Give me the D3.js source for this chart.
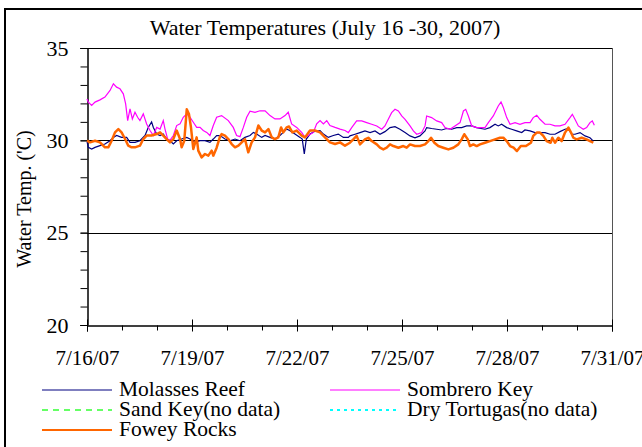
<!DOCTYPE html>
<html><head><meta charset="utf-8">
<script src="https://cdn.jsdelivr.net/npm/d3@7"></script>
<style>body{margin:0;background:#fff}svg{display:block}svg text{font-family:"Liberation Serif","DejaVu Serif",serif !important}</style>
</head><body><svg id="c" width="642" height="447"></svg>
<script>
const title = "Water Temperatures (July 16 -30, 2007)";
const yLabel = "Water Temp. ('C)";
const yTicks = [20, 25, 30, 35];
const yGrid = [25, 30];
const xTickLabels = ["7/16/07", "7/19/07", "7/22/07", "7/25/07", "7/28/07", "7/31/07"];
const seriesNames = ["Molasses Reef", "Sombrero Key", "Sand Key(no data)", "Dry Tortugas(no data)", "Fowey Rocks"];
// [hours since 7/16/07 00:00, temperature]
const molasses = [[0,29.95],[0.9,29.62],[3.2,29.53],[5.5,29.62],[8.9,29.71],[12.3,29.8],[15.8,29.98],[18.1,30.16],[20.3,30.26],[23.7,30.16],[27.2,30.16],[29.5,29.89],[32.9,29.89],[36.3,29.98],[39.8,30.26],[42.0,30.7],[44.3,31.0],[45.5,30.7],[47.8,30.34],[50.1,30.26],[52.3,30.34],[54.6,30.07],[56.9,29.98],[59.2,29.8],[61.5,29.98],[64.9,30.07],[68.4,30.16],[70.6,30.07],[74.1,29.89],[77.5,29.98],[80.9,29.98],[84.3,29.89],[86.6,30.07],[88.9,30.26],[91.2,30.26],[94.6,30.07],[98.1,29.98],[101.5,30.07],[104.9,29.98],[108.3,30.16],[111.8,30.26],[114.1,30.43],[116.3,30.34],[119.8,30.16],[122.1,30.26],[125.5,30.16],[128.9,30.07],[132.3,30.26],[134.6,30.43],[136.9,30.61],[139.2,30.52],[142.6,30.34],[146.1,30.16],[147.6,30.07],[149.0,29.26],[150.4,30.07],[152.9,30.34],[156.3,30.49],[159.8,30.52],[162.1,30.34],[165.5,30.16],[168.9,30.26],[172.3,30.34],[175.8,30.16],[179.2,30.16],[180.3,30.24],[183.8,30.33],[187.2,30.42],[190.6,30.51],[194.1,30.42],[197.5,30.51],[200.9,30.33],[204.3,30.47],[207.8,30.69],[211.2,30.74],[214.6,30.6],[218.1,30.42],[221.5,30.24],[224.9,30.14],[228.3,30.24],[231.8,30.51],[232.9,30.69],[236.3,30.64],[239.8,30.6],[243.2,30.56],[246.6,30.64],[250.1,30.6],[253.5,30.69],[256.9,30.69],[260.3,30.78],[263.8,30.78],[267.2,30.69],[272.9,30.6],[276.3,30.69],[279.8,30.87],[282.0,30.78],[284.3,30.87],[287.8,30.69],[291.2,30.6],[294.6,30.51],[298.1,30.42],[300.3,30.56],[303.8,30.51],[307.2,30.42],[310.6,30.42],[314.1,30.42],[317.5,30.33],[320.9,30.33],[324.3,30.47],[327.8,30.6],[330.1,30.64],[332.3,30.33],[334.6,30.33],[338.1,30.42],[341.5,30.24],[344.9,30.14],[347.2,29.96]];
const sombrero = [[0,32.24],[0.9,32.07],[3.2,31.89],[5.5,32.07],[8.9,32.19],[12.3,32.34],[15.8,32.7],[18.1,33.06],[20.3,32.88],[22.6,32.79],[24.9,32.52],[26.5,31.97],[27.9,31.07],[29.5,31.7],[31.1,31.16],[32.9,31.52],[34.7,31.25],[36.3,31.07],[38.6,31.43],[40.9,30.89],[43.2,30.53],[45.5,30.26],[47.8,30.7],[50.1,30.61],[52.3,31.07],[53.5,30.61],[55.3,30.07],[56.9,30.0],[59.2,30.26],[61.5,30.8],[63.8,30.89],[66.0,31.25],[68.4,31.43],[70.6,31.25],[72.9,30.98],[75.2,30.7],[77.5,30.7],[79.7,30.53],[82.1,30.43],[84.3,30.26],[86.6,30.8],[88.9,31.25],[92.3,31.34],[96.9,31.07],[100.3,30.7],[102.6,30.26],[104.9,30.2],[107.2,30.7],[109.5,31.25],[111.8,31.58],[115.2,31.52],[118.6,31.6],[122.1,31.6],[125.5,31.34],[128.9,31.16],[132.3,31.16],[135.8,31.34],[138.0,31.52],[140.3,30.89],[143.8,30.7],[147.2,30.43],[149.5,30.16],[151.8,30.26],[155.2,30.43],[157.5,30.89],[159.8,31.07],[162.1,30.89],[164.4,31.07],[166.6,30.8],[170.1,30.7],[173.5,30.61],[176.9,30.53],[179.2,30.42],[181.5,30.69],[184.9,31.05],[188.4,31.05],[191.8,30.96],[195.2,30.87],[198.7,30.78],[202.1,30.6],[204.3,30.78],[206.6,31.14],[208.9,31.5],[211.2,31.68],[213.5,31.59],[215.8,31.32],[218.1,31.14],[221.5,30.78],[223.8,30.51],[226.1,30.33],[229.5,30.42],[231.8,30.78],[232.9,31.32],[236.3,31.23],[239.8,31.05],[243.2,30.96],[245.5,30.69],[248.9,30.6],[252.3,30.78],[255.8,30.96],[258.1,31.59],[259.7,31.68],[261.5,31.32],[263.8,30.78],[267.2,30.69],[272.9,30.69],[275.2,30.96],[278.6,31.32],[282.0,31.86],[283.9,32.08],[285.5,31.78],[287.8,31.23],[290.1,30.87],[293.5,30.96],[296.9,30.87],[300.3,30.96],[303.8,30.96],[306.0,31.23],[308.4,31.36],[310.6,31.14],[314.1,30.87],[317.5,30.87],[320.9,30.78],[324.3,30.78],[327.8,30.87],[331.2,31.23],[332.8,31.41],[334.6,31.14],[336.9,30.78],[340.3,30.6],[342.6,30.69],[344.9,30.96],[346.5,31.05],[347.9,30.82]];
const fowey = [[0,29.98],[2.1,29.89],[5.5,29.98],[8.9,29.89],[12.3,29.62],[14.6,29.62],[16.9,29.98],[19.2,30.43],[21.5,30.61],[23.7,30.43],[26.1,30.07],[28.3,29.71],[30.6,29.62],[32.9,29.62],[36.3,29.71],[38.6,30.07],[40.9,30.26],[44.3,30.26],[47.8,30.34],[50.1,30.43],[52.3,30.26],[54.6,30.07],[56.9,29.89],[59.2,30.07],[61.5,30.53],[63.8,30.07],[64.9,29.62],[66.7,29.98],[68.4,31.68],[69.9,31.43],[71.3,30.7],[72.9,29.53],[75.2,30.16],[76.3,29.44],[78.6,29.08],[80.9,29.26],[83.2,29.17],[85.5,29.44],[86.6,29.17],[88.9,29.6],[91.2,30.2],[92.3,30.34],[94.6,30.26],[96.9,30.07],[99.2,29.8],[101.5,29.62],[103.8,29.71],[106.1,29.89],[108.3,30.07],[110.6,29.35],[112.9,29.89],[115.2,30.16],[117.5,30.8],[119.8,30.53],[122.1,30.43],[124.4,30.61],[126.7,30.16],[128.9,30.07],[131.2,30.16],[133.1,30.7],[134.6,30.43],[136.9,30.7],[138.5,30.75],[140.8,30.43],[143.8,30.53],[147.2,30.26],[149.5,30.16],[152.9,30.53],[156.3,30.53],[159.8,30.43],[163.2,30.16],[166.6,29.89],[170.1,29.8],[173.5,29.89],[176.9,29.71],[180.3,29.87],[182.6,30.05],[184.9,30.24],[187.2,29.78],[190.6,30.05],[192.9,30.14],[195.2,29.96],[198.7,29.78],[200.9,29.6],[203.2,29.51],[205.5,29.6],[207.8,29.78],[210.1,29.69],[213.5,29.6],[216.9,29.69],[219.2,29.6],[221.5,29.78],[224.9,29.69],[228.3,29.69],[231.8,29.78],[234.1,29.96],[235.9,30.14],[238.2,29.87],[240.9,29.69],[244.3,29.6],[247.8,29.51],[251.2,29.6],[254.6,29.78],[256.9,30.05],[258.7,30.33],[261.1,30.05],[262.6,29.69],[264.9,29.78],[267.2,29.69],[269.5,29.78],[272.9,29.87],[276.3,29.96],[279.8,30.05],[283.2,30.14],[285.5,30.14],[287.8,29.96],[290.1,29.69],[292.5,29.6],[294.8,29.42],[297.5,29.69],[301.0,29.69],[304.4,29.87],[306.0,30.24],[308.4,30.42],[310.6,30.42],[312.9,30.24],[315.2,29.96],[317.9,29.87],[319.1,30.14],[320.9,29.87],[323.2,30.14],[325.5,29.96],[327.8,30.42],[330.1,30.69],[331.9,30.42],[333.5,30.14],[335.8,30.05],[339.2,30.14],[342.6,30.05],[344.9,29.96],[347.2,29.87]];

const svg = d3.select("#c");
const start = new Date(2007, 6, 16);
const end = new Date(2007, 6, 31);
const toDate = h => new Date(start.getTime() + h * 3600000);
const x = d3.scaleTime().domain([start, end]).range([87, 612]);
const y = d3.scaleLinear().domain([20, 35]).range([325, 48]);

// outer border
svg.append("rect").attr("x", 5).attr("y", 9).attr("width", 650).attr("height", 460)
  .attr("fill", "none").attr("stroke", "#000").attr("stroke-width", 2);

// title
svg.append("text").attr("x", 325).attr("y", 35).attr("text-anchor", "middle")
  .attr("font-size", 22).text(title);

// plot frame top/right
svg.append("line").attr("x1", x.range()[0]).attr("x2", x.range()[1]).attr("y1", y(35) + 0.5).attr("y2", y(35) + 0.5).attr("stroke", "#000");
svg.append("line").attr("x1", x.range()[1] + 0.5).attr("x2", x.range()[1] + 0.5).attr("y1", y(35)).attr("y2", y(20)).attr("stroke", "#555");

// gridlines
svg.selectAll(".grid").data(yGrid).enter().append("line")
  .attr("x1", x.range()[0]).attr("x2", x.range()[1])
  .attr("y1", d => Math.round(y(d)) + 0.5).attr("y2", d => Math.round(y(d)) + 0.5)
  .attr("stroke", "#000");

// y axis
const yMinor = svg.append("g").attr("transform", "translate(87.5,0)")
  .call(d3.axisLeft(y).ticks(15).tickSize(7).tickFormat(""));
const yAx = svg.append("g").attr("transform", "translate(87.5,0)")
  .call(d3.axisLeft(y).tickValues(yTicks).tickSize(7).tickPadding(12).tickFormat(d3.format("d")));
yAx.selectAll("text").attr("font-size", 22).attr("fill", "#000");
[yMinor, yAx].forEach(g => { g.selectAll("path,line").attr("stroke", "#000"); g.attr("font-family", null); });

// x axis
const xMajorDates = xTickLabels.map((_, i) => d3.timeDay.offset(start, i * 3));
const xMinor = svg.append("g").attr("transform", "translate(0,325.5)")
  .call(d3.axisBottom(x).ticks(d3.timeDay.every(1)).tickSize(5).tickFormat(""));
const xAx = svg.append("g").attr("transform", "translate(0,325.5)")
  .call(d3.axisBottom(x).tickValues(xMajorDates).tickSize(6).tickPadding(19)
    .tickFormat((d, i) => xTickLabels[i]));
xAx.selectAll(".tick line").attr("y1", -6);
xAx.selectAll("text").attr("font-size", 21).attr("fill", "#000");
[xMinor, xAx].forEach(g => { g.selectAll("path,line").attr("stroke", "#000"); g.attr("font-family", null); });

// y label
svg.append("text").attr("transform", "translate(31,199) rotate(-90)").attr("text-anchor", "middle")
  .attr("font-size", 20).text(yLabel);

// lines
const line = d3.line().x(d => x(toDate(d[0]))).y(d => y(d[1]));
svg.append("path").datum(molasses).attr("d", line).attr("fill", "none").attr("stroke", "#000080").attr("stroke-width", 1.2);
svg.append("path").datum(sombrero).attr("d", line).attr("fill", "none").attr("stroke", "#ff00ff").attr("stroke-width", 1.2);
svg.append("path").datum(fowey).attr("d", line).attr("fill", "none").attr("stroke", "#ff6600").attr("stroke-width", 2.5).attr("stroke-linejoin", "round");

// legend
const legendItems = [
  {name: seriesNames[0], color: "#000080", w: 1.2, dash: null, col: 0, row: 0},
  {name: seriesNames[1], color: "#ff00ff", w: 1.2, dash: null, col: 1, row: 0},
  {name: seriesNames[2], color: "#33ff33", w: 1.5, dash: "6,5", col: 0, row: 1},
  {name: seriesNames[3], color: "#00ffff", w: 2, dash: "3,4", col: 1, row: 1},
  {name: seriesNames[4], color: "#ff6600", w: 2.2, dash: null, col: 0, row: 2}
];
const lg = svg.append("g");
legendItems.forEach(it => {
  const lx = it.col === 0 ? 42 : 330;
  const ly = 390 + it.row * 20;
  lg.append("line").attr("x1", lx).attr("x2", lx + 70).attr("y1", ly).attr("y2", ly)
    .attr("stroke", it.color).attr("stroke-width", it.w).attr("stroke-dasharray", it.dash);
  lg.append("text").attr("x", lx + 77).attr("y", ly + 6)
    .attr("font-size", 21.5).text(it.name);
});
</script></body></html>
